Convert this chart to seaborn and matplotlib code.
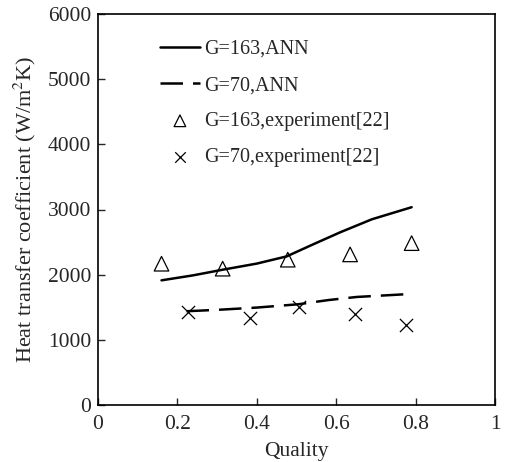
import numpy as np
import pandas as pd
import seaborn as sns
import matplotlib.pyplot as plt

# ANN curves
ann163_x = [0.16, 0.24, 0.315, 0.40, 0.475, 0.54, 0.61, 0.69, 0.79]
ann163_y = [1913, 1990, 2077, 2170, 2280, 2460, 2650, 2850, 3035]
ann70_x = [0.223, 0.30, 0.40, 0.505, 0.58, 0.652, 0.773]
ann70_y = [1439, 1460, 1495, 1546, 1610, 1658, 1699]

# experiment [22]
exp163_x = [0.16, 0.314, 0.478, 0.635, 0.79]
exp163_y = [2168, 2092, 2230, 2311, 2484]
exp70_x = [0.226, 0.383, 0.507, 0.647, 0.776]
exp70_y = [1428, 1336, 1505, 1403, 1224]

sns.set_style("white")
plt.rcParams['font.family'] = ['Liberation Serif', 'DejaVu Serif']
plt.rcParams['mathtext.fontset'] = 'stix'

fig = plt.figure(figsize=(5.05, 4.62), dpi=100)
ax = fig.add_axes([98 / 505, 1 - 405 / 462, 397 / 505, 391 / 462])

sns.lineplot(x=ann163_x, y=ann163_y, ax=ax, color='black', linewidth=1.8,
             label='G=163,ANN')
sns.lineplot(x=ann70_x, y=ann70_y, ax=ax, color='black', linewidth=1.8,
             label='G=70,ANN')
ax.lines[-1].set_dashes([9, 4])
sns.scatterplot(x=exp163_x, y=exp163_y, ax=ax, marker='^', s=110,
                facecolor='none', edgecolor='black', linewidth=0.9,
                label='G=163,experiment[22]')
sns.scatterplot(x=exp70_x, y=exp70_y, ax=ax, marker='x', s=90,
                color='black', linewidth=0.9,
                label='G=70,experiment[22]')

ax.set_xlim(0, 1)
ax.set_ylim(0, 6000)
ax.set_xticks([0, 0.2, 0.4, 0.6, 0.8, 1])
ax.set_xticklabels(['0', '0.2', '0.4', '0.6', '0.8', '1'])
ax.set_yticks(range(0, 6001, 1000))
ax.tick_params(direction='in', length=5, width=1, labelsize=15.5, pad=5,
               top=False, right=False, left=True, bottom=True)
ax.tick_params(axis='x', pad=7)
for sp in ax.spines.values():
    sp.set_color('black')
    sp.set_linewidth(1.2)

ax.set_xlabel('Quality', fontsize=15.5, labelpad=6)
ax.set_ylabel(r'Heat transfer coefficient (W/m$^2$K)', fontsize=16, labelpad=7)

leg = ax.legend(loc='upper left', frameon=False, fontsize=14.5,
                bbox_to_anchor=(0.11, 0.98), handlelength=2.0,
                handletextpad=0.2, labelspacing=0.84, markerscale=0.8)

fig.savefig('out.png', dpi=100)
